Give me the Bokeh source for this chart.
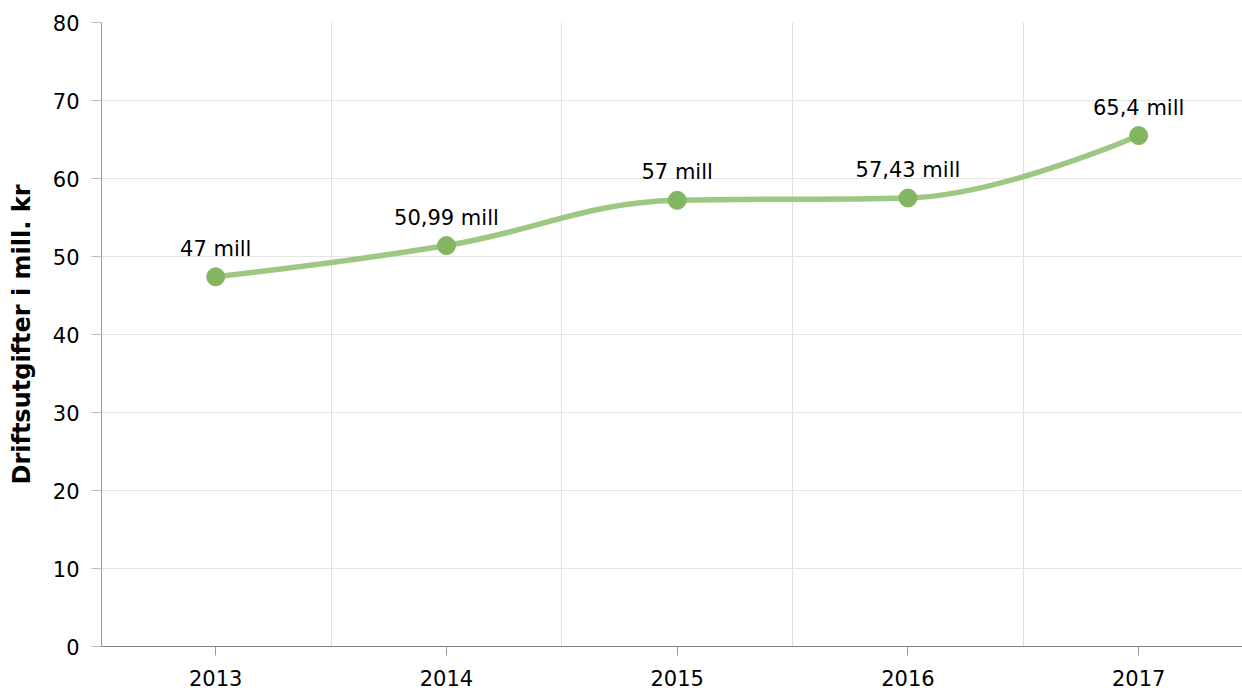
from bokeh.plotting import figure
from bokeh.models import FixedTicker, Range1d, ColumnDataSource
from bokeh.core.properties import value
from bokeh.embed import file_html
from bokeh.resources import INLINE

# Data
years = ["2013", "2014", "2015", "2016", "2017"]
values = [47.4, 51.4, 57.2, 57.5, 65.5]
labels = ["47 mill", "50,99 mill", "57 mill", "57,43 mill", "65,4 mill"]
y_ticks = [0, 10, 20, 30, 40, 50, 60, 70, 80]

FONT = "DejaVu Sans"
LINE_COLOR = "#9cc883"
MARK_COLOR = "#84b661"

xs = list(range(len(years)))

p = figure(width=1242, height=690, output_backend="svg", toolbar_location=None,
           x_range=Range1d(-0.495, 4.45), y_range=Range1d(0, 80))
p.min_border_left = 101
p.min_border_right = 0
p.min_border_top = 22
p.min_border_bottom = 44
p.outline_line_color = None
p.background_fill_color = "white"

# Highcharts-like spline control points computed from data
smoothing = 1.5
denom = smoothing + 1
n = len(xs)
left_c = [None] * n
right_c = [None] * n
for i in range(n):
    px, py = xs[i], values[i]
    if 0 < i < n - 1:
        lx, ly = xs[i - 1], values[i - 1]
        nx, ny = xs[i + 1], values[i + 1]
        lcx = (smoothing * px + lx) / denom
        lcy = (smoothing * py + ly) / denom
        rcx = (smoothing * px + nx) / denom
        rcy = (smoothing * py + ny) / denom
        if rcx != lcx:
            corr = (rcy - lcy) * (rcx - px) / (rcx - lcx) + py - rcy
            lcy += corr
            rcy += corr
            if lcy > ly and lcy > py:
                lcy = max(ly, py); rcy = 2 * py - lcy
            elif lcy < ly and lcy < py:
                lcy = min(ly, py); rcy = 2 * py - lcy
            if rcy > ny and rcy > py:
                rcy = max(ny, py); lcy = 2 * py - rcy
            elif rcy < ny and rcy < py:
                rcy = min(ny, py); lcy = 2 * py - rcy
        left_c[i] = (lcx, lcy)
        right_c[i] = (rcx, rcy)
    else:
        left_c[i] = (px, py)
        right_c[i] = (px, py)

bez = dict(x0=[], y0=[], x1=[], y1=[], cx0=[], cy0=[], cx1=[], cy1=[])
for i in range(1, n):
    bez["x0"].append(xs[i - 1]); bez["y0"].append(values[i - 1])
    bez["x1"].append(xs[i]); bez["y1"].append(values[i])
    bez["cx0"].append(right_c[i - 1][0]); bez["cy0"].append(right_c[i - 1][1])
    bez["cx1"].append(left_c[i][0]); bez["cy1"].append(left_c[i][1])

p.bezier(x0="x0", y0="y0", x1="x1", y1="y1", cx0="cx0", cy0="cy0", cx1="cx1", cy1="cy1",
         source=ColumnDataSource(bez), line_color=LINE_COLOR, line_width=5.5, line_cap="round")

src = ColumnDataSource(dict(x=xs, y=values, label=labels))
p.scatter("x", "y", source=src, size=18, fill_color=MARK_COLOR, line_color=MARK_COLOR)
p.text("x", "y", text="label", source=src, text_align="center", text_baseline="middle",
       y_offset=-28, text_font=value(FONT), text_font_size="21px", text_color="#000000")

# Axes
p.xaxis.ticker = FixedTicker(ticks=xs)
p.xaxis.major_label_overrides = {i: y for i, y in enumerate(years)}
p.xaxis.minor_tick_line_color = None
p.xaxis.major_tick_in = 0
p.xaxis.major_tick_out = 9
p.xaxis.axis_line_color = "#808080"
p.xaxis.major_tick_line_color = "#999999"
p.xaxis.major_label_standoff = 14

p.yaxis.ticker = FixedTicker(ticks=y_ticks)
p.yaxis.minor_tick_line_color = None
p.yaxis.major_tick_in = 0
p.yaxis.major_tick_out = 10
p.yaxis.axis_line_color = "#999999"
p.yaxis.major_tick_line_color = "#bbbbbb"
p.yaxis.major_label_standoff = 12
p.yaxis.axis_label = "Driftsutgifter i mill. kr"
p.yaxis.axis_label_text_font = FONT
p.yaxis.axis_label_text_font_style = "bold"
p.yaxis.axis_label_text_font_size = "24px"
p.yaxis.axis_label_text_color = "#000000"
p.yaxis.axis_label_standoff = 14

for ax in (p.xaxis, p.yaxis):
    ax.major_label_text_font = FONT
    ax.major_label_text_font_size = "21px"
    ax.major_label_text_color = "#000000"

# Grid
p.xgrid.ticker = FixedTicker(ticks=[0.5, 1.5, 2.5, 3.5])
p.xgrid.grid_line_color = "#e0e0e0"
p.ygrid.ticker = FixedTicker(ticks=y_ticks[1:])
p.ygrid.grid_line_color = "#e6e6e6"

open("out.html", "w").write(file_html(p, INLINE))
